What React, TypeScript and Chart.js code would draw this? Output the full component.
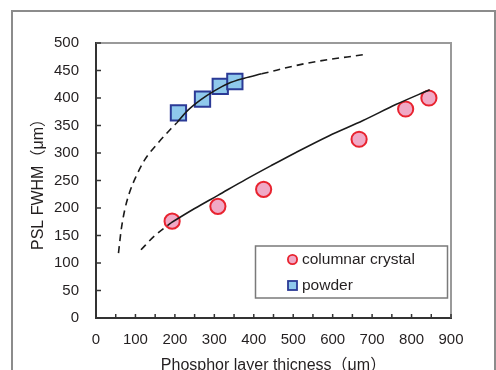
import { useEffect, useRef } from 'react';
import { Chart, registerables } from 'chart.js';

Chart.register(...registerables);

// Measured points
const columnarX = [193, 309, 425, 667, 785, 844];
const columnarY = [176, 203, 234, 325, 380, 400];
const powderX = [209, 270, 315, 352];
const powderY = [373, 398, 421, 430];

// Fitted curves
const powderFitLowX = [57, 64, 73, 85, 102, 123, 157, 190, 205];
const powderFitLowY = [118, 161, 197, 228, 258, 287, 318, 344, 355];
const powderFitMidX = [205, 232, 266, 300, 334, 376, 420];
const powderFitMidY = [355, 377, 397, 413, 426, 436, 444];
const powderFitHighX = [420, 533, 689];
const powderFitHighY = [444, 463, 480];
const columnarFitLowX = [114, 148, 190];
const columnarFitLowY = [124, 149, 173];
const columnarFitMidX = [190, 250, 309, 380, 444, 507, 590, 677, 760, 846];
const columnarFitMidY = [173, 199, 223, 252, 277, 301, 331, 359, 388, 415];

const xMin = 0;
const xMax = 900;
const xStep = 50;
const xLabelStep = 100;
const yMin = 0;
const yMax = 500;
const yStep = 50;

const seriesLabels = ['columnar crystal', 'powder'];
const xTitle = 'Phosphor layer thicness（μm）';
const yTitle = 'PSL FWHM（μm）';

const FONT = "'Liberation Sans', Arial, 'Noto Sans CJK JP', sans-serif";
const TEXT = '#231f20';

const zip = (xs: number[], ys: number[]) => xs.map((x, i) => ({ x, y: ys[i] }));

const fitStyle = (dashed: boolean) => ({
  showLine: true,
  borderColor: '#1a1a1a',
  borderWidth: 1.6,
  borderDash: dashed ? [7, 5] : [],
  pointRadius: 0,
  pointHoverRadius: 0,
  cubicInterpolationMode: 'monotone' as const,
  fill: false,
  order: 0,
});

const framePlugin = {
  id: 'frame',
  beforeDraw(chart: any) {
    const { ctx, width, height } = chart;
    ctx.save();
    ctx.fillStyle = '#fff';
    ctx.fillRect(0, 0, width, height);
    ctx.strokeStyle = '#8c8c8c';
    ctx.lineWidth = 2;
    ctx.strokeRect(12, 11, 483, height + 20);
    ctx.restore();
  },
  beforeDatasetsDraw(chart: any) {
    const { ctx, chartArea: a } = chart;
    ctx.save();
    ctx.strokeStyle = '#9a9a9a';
    ctx.lineWidth = 2;
    ctx.beginPath();
    ctx.moveTo(a.left, a.top);
    ctx.lineTo(a.right, a.top);
    ctx.lineTo(a.right, a.bottom);
    ctx.stroke();
    // inward tick marks
    ctx.strokeStyle = '#333';
    ctx.lineWidth = 1.5;
    const xs = chart.scales.x;
    xs.ticks.forEach((t: any) => {
      const px = xs.getPixelForValue(t.value);
      ctx.beginPath();
      ctx.moveTo(px, a.bottom);
      ctx.lineTo(px, a.bottom - 4);
      ctx.stroke();
    });
    const ys = chart.scales.y;
    ys.ticks.forEach((t: any) => {
      const py = ys.getPixelForValue(t.value);
      ctx.beginPath();
      ctx.moveTo(a.left, py);
      ctx.lineTo(a.left + 5, py);
      ctx.stroke();
    });
    ctx.restore();
  },
  afterDraw(chart: any) {
    const { ctx } = chart;
    const ds = chart.data.datasets;
    ctx.save();
    // legend box
    const bx = 255.5, by = 246, bw = 192, bh = 52;
    ctx.fillStyle = '#fff';
    ctx.fillRect(bx, by, bw, bh);
    ctx.strokeStyle = '#7a7a7a';
    ctx.lineWidth = 1.5;
    ctx.strokeRect(bx, by, bw, bh);
    ctx.font = `15.5px ${FONT}`;
    ctx.textBaseline = 'middle';
    ctx.textAlign = 'left';
    // columnar
    const c = ds[0];
    ctx.beginPath();
    ctx.arc(292.5, 259.5, 4.6, 0, Math.PI * 2);
    ctx.fillStyle = c.backgroundColor;
    ctx.fill();
    ctx.lineWidth = 1.8;
    ctx.strokeStyle = c.borderColor;
    ctx.stroke();
    ctx.fillStyle = TEXT;
    ctx.fillText(c.label, 302, 260);
    // powder
    const p = ds[1];
    ctx.fillStyle = p.backgroundColor;
    ctx.fillRect(288, 281, 9, 9);
    ctx.lineWidth = 1.8;
    ctx.strokeStyle = p.borderColor;
    ctx.strokeRect(288, 281, 9, 9);
    ctx.fillStyle = TEXT;
    ctx.fillText(p.label, 302, 286);
    ctx.restore();
  },
};

export default function App() {
  const ref = useRef<HTMLCanvasElement>(null);

  useEffect(() => {
    if (!ref.current) return;
    Chart.defaults.font.family = FONT;
    Chart.defaults.color = TEXT;
    const chart = new Chart(ref.current, {
      type: 'scatter',
      data: {
        datasets: [
          {
            label: seriesLabels[0],
            data: zip(columnarX, columnarY),
            pointStyle: 'circle',
            pointRadius: 7.6,
            pointHoverRadius: 7.6,
            backgroundColor: '#f0a9c6',
            borderColor: '#e8232f',
            borderWidth: 2,
            order: 1,
          },
          {
            label: seriesLabels[1],
            data: zip(powderX, powderY),
            pointStyle: 'rect',
            pointRadius: 10.8,
            pointHoverRadius: 10.8,
            backgroundColor: '#8fc9ec',
            borderColor: '#2b3a96',
            borderWidth: 2,
            order: 1,
          },
          { label: 'pf1', data: zip(powderFitLowX, powderFitLowY), ...fitStyle(true) },
          { label: 'pf2', data: zip(powderFitMidX, powderFitMidY), ...fitStyle(false) },
          { label: 'pf3', data: zip(powderFitHighX, powderFitHighY), ...fitStyle(true) },
          { label: 'cf1', data: zip(columnarFitLowX, columnarFitLowY), ...fitStyle(true) },
          { label: 'cf2', data: zip(columnarFitMidX, columnarFitMidY), ...fitStyle(false) },
        ] as any,
      },
      options: {
        responsive: false,
        animation: false,
        layout: { padding: { left: 0, top: 43, right: 45, bottom: 0 } },
        plugins: {
          legend: { display: false },
          tooltip: { enabled: false },
        },
        scales: {
          x: {
            type: 'linear',
            min: xMin,
            max: xMax,
            grid: { display: false, drawTicks: false },
            border: { display: true, color: '#333', width: 2 },
            ticks: {
              stepSize: xStep,
              padding: 13,
              font: { size: 15 },
              color: TEXT,
              maxRotation: 0,
              autoSkip: false,
              callback: (v: any) => (Number(v) % xLabelStep === 0 ? String(v) : ''),
            },
            title: {
              display: true,
              text: xTitle,
              font: { size: 16, lineHeight: 1 },
              color: TEXT,
              padding: { top: 0, bottom: -4 },
            },
            afterFit: (s: any) => {
              s.height = 52;
            },
          },
          y: {
            type: 'linear',
            min: yMin,
            max: yMax,
            grid: { display: false, drawTicks: false },
            border: { display: true, color: '#333', width: 2 },
            ticks: {
              stepSize: yStep,
              padding: 17,
              font: { size: 15 },
              color: TEXT,
            },
            title: {
              display: true,
              text: yTitle,
              font: { size: 16, lineHeight: 1 },
              color: TEXT,
              padding: { top: 31, bottom: 0 },
            },
            afterFit: (s: any) => {
              s.width = 96;
            },
          },
        },
      },
      plugins: [framePlugin],
    });
    return () => chart.destroy();
  }, []);

  return (
    <div style={{ position: 'absolute', left: 0, top: 0, width: 496, height: 370, background: '#fff' }}>
      <canvas ref={ref} width={496} height={370} style={{ display: 'block', width: 496, height: 370 }} />
    </div>
  );
}
